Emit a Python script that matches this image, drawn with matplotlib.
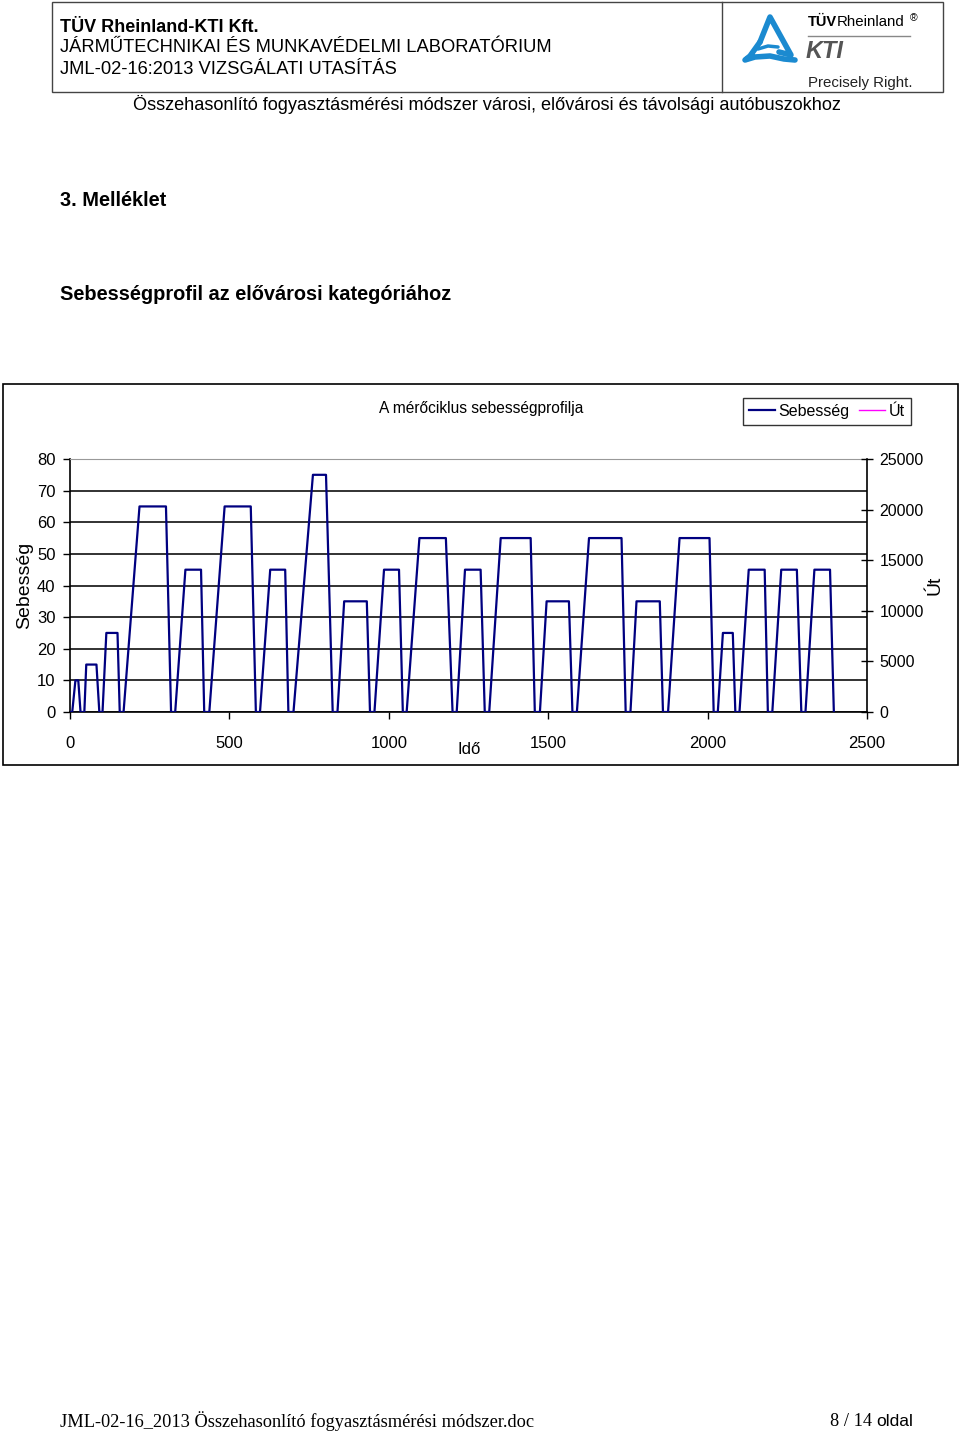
import matplotlib
matplotlib.use("Agg")
import matplotlib.pyplot as plt
from matplotlib.lines import Line2D
from matplotlib.patches import Rectangle

# speed profile of the suburban test cycle (vertices of the trapezoids)
time_s = [0,
          7, 17, 26, 33, 45, 51, 83, 92, 102, 114, 149, 156,
          168, 218, 301, 317, 330, 362, 411, 421, 437, 485, 567, 583,
          596, 628, 675, 685, 701, 762, 803, 824, 839, 860, 931, 941,
          955, 985, 1032, 1044, 1056, 1096, 1179, 1200, 1213, 1239, 1288, 1301,
          1315, 1351, 1445, 1458, 1474, 1495, 1565, 1576, 1590, 1628, 1730, 1743,
          1758, 1777, 1850, 1860, 1876, 1912, 2006, 2019, 2032, 2048, 2079, 2087,
          2100, 2129, 2179, 2189, 2203, 2231, 2280, 2294, 2307, 2335, 2384, 2396]
speed_kmh = [0,
             0, 10, 10, 0, 0, 15, 15, 0, 0, 25, 25, 0,
             0, 65, 65, 0, 0, 45, 45, 0, 0, 65, 65, 0,
             0, 45, 45, 0, 0, 75, 75, 0, 0, 35, 35, 0,
             0, 45, 45, 0, 0, 55, 55, 0, 0, 45, 45, 0,
             0, 55, 55, 0, 0, 35, 35, 0, 0, 55, 55, 0,
             0, 35, 35, 0, 0, 55, 55, 0, 0, 25, 25, 0,
             0, 45, 45, 0, 0, 45, 45, 0, 0, 45, 45, 0]
# distance series is in the legend but has no visible points
dist_t = []
dist_m = []

speed_ticks = [0, 10, 20, 30, 40, 50, 60, 70, 80]
dist_ticks = [0, 5000, 10000, 15000, 20000, 25000]
time_ticks = [0, 500, 1000, 1500, 2000, 2500]

W, H = 960, 1435
SANS = ["Liberation Sans", "DejaVu Sans"]
SERIF = ["Liberation Serif", "DejaVu Serif"]
CH = 11.5  # chart font size


def fx(x):
    return x / W


def fy(y):
    return 1 - y / H


fig = plt.figure(figsize=(W / 100, H / 100), dpi=100)
fig.patch.set_facecolor("white")

# page header
fig.add_artist(Rectangle((fx(52), fy(92)), fx(943) - fx(52), fy(2) - fy(92),
                         transform=fig.transFigure, fill=False, ec="#444444", lw=1))
fig.add_artist(Line2D([fx(722), fx(722)], [fy(2), fy(92)], transform=fig.transFigure,
                      color="#444444", lw=1))
fig.text(fx(60), fy(27), "TÜV Rheinland-KTI Kft.", family=SANS, fontsize=13,
         weight="bold", va="center")
fig.text(fx(60), fy(48), "JÁRMŰTECHNIKAI ÉS MUNKAVÉDELMI LABORATÓRIUM", family=SANS,
         fontsize=13.2, va="center")
fig.text(fx(60), fy(69), "JML-02-16:2013 VIZSGÁLATI UTASÍTÁS", family=SANS,
         fontsize=13.2, va="center")

# logo
blue = "#1b8ad0"
fig.add_artist(Line2D([fx(x) for x in [760, 770, 791, 779]],
                      [fy(y) for y in [42, 17, 55, 52]],
                      transform=fig.transFigure, color=blue, lw=4, solid_capstyle="round"))
fig.add_artist(Line2D([fx(x) for x in [760, 750, 745, 755, 770, 784, 795]],
                      [fy(y) for y in [42, 56, 60, 57, 56, 59, 60]],
                      transform=fig.transFigure, color=blue, lw=4, solid_capstyle="round"))
fig.add_artist(Line2D([fx(x) for x in [758, 768, 778]],
                      [fy(y) for y in [49, 46, 47]],
                      transform=fig.transFigure, color=blue, lw=2.5, solid_capstyle="round"))
fig.text(fx(808), fy(22), "TÜV", family=SANS, fontsize=10.5, weight="bold", va="center")
fig.text(fx(837), fy(22), "Rheinland", family=SANS, fontsize=10.8, va="center")
fig.text(fx(910), fy(18), "®", family=SANS, fontsize=7.5, va="center")
fig.add_artist(Line2D([fx(808), fx(910)], [fy(36), fy(36)], transform=fig.transFigure,
                      color="#888888", lw=1))
fig.text(fx(806), fy(51), "KTI", family=SANS, fontsize=17, weight="bold", style="italic",
         color="#555555", va="center")
fig.text(fx(808), fy(83), "Precisely Right.", family=SANS, fontsize=10.8, va="center",
         color="#222222")

fig.text(fx(487), fy(104),
         "Összehasonlító fogyasztásmérési módszer városi, elővárosi és távolsági autóbuszokhoz",
         family=SANS, fontsize=13.1, ha="center", va="center")

fig.text(fx(60), fy(201), "3. Melléklet", family=SANS, fontsize=14.4, weight="bold",
         va="center")
fig.text(fx(60), fy(294), "Sebességprofil az elővárosi kategóriához", family=SANS,
         fontsize=14.4, weight="bold", va="center")

# chart frame
fig.add_artist(Rectangle((fx(3), fy(765)), fx(958) - fx(3), fy(384) - fy(765),
                         transform=fig.transFigure, fill=False, ec="black", lw=1.2))
fig.text(fx(481), fy(408), "A mérőciklus sebességprofilja", family=SANS, fontsize=11.2,
         ha="center", va="center")

ax = fig.add_axes([fx(70), fy(712), fx(867) - fx(70), fy(459) - fy(712)])
ax.plot(time_s, speed_kmh, color="#000080", lw=1.6, label="Sebesség", zorder=3)
ax.set_xlim(0, 2500)
ax.set_ylim(0, 80)
ax.set_xticks(time_ticks)
ax.set_yticks(speed_ticks)
ax.grid(axis="y", color="#222222", lw=1.3)
ax.yaxis.get_gridlines()[-1].set_color("#999999")
for s in ["left", "bottom"]:
    ax.spines[s].set_color("black")
    ax.spines[s].set_linewidth(1.2)
ax.spines["top"].set_color("#999999")
ax.spines["right"].set_visible(False)
ax.tick_params(axis="y", direction="out", length=5, width=1, pad=5.5, labelsize=CH + 0.5)
ax.tick_params(axis="x", direction="out", length=5, width=1, pad=12, labelsize=CH + 0.5)
for lab in ax.get_xticklabels() + ax.get_yticklabels():
    lab.set_family(SANS)

ax.set_xlabel("Idő", family=SANS, fontsize=CH + 0.5)
ax.xaxis.set_label_coords((469 - 70) / 797, (712 - 749) / 253)
ax.xaxis.label.set_va("center")
ax.set_ylabel("Sebesség", family=SANS, fontsize=14)
ax.yaxis.set_label_coords((25 - 70) / 797, (712 - 585) / 253)
ax.yaxis.label.set_va("center")

ax2 = ax.twinx()
ax2.plot(dist_t, dist_m, color="#ff00ff", lw=1, label="Út")
ax2.set_ylim(0, 25000)
ax2.set_yticks(dist_ticks)
for s in ["left", "bottom", "top"]:
    ax2.spines[s].set_visible(False)
ax2.spines["right"].set_color("black")
ax2.spines["right"].set_linewidth(1.2)
ax2.tick_params(axis="y", direction="inout", length=9, width=1, pad=4.5, labelsize=CH)
for lab in ax2.get_yticklabels():
    lab.set_family(SANS)
ax2.set_ylabel("Út", family=SANS, fontsize=14)
ax2.yaxis.set_label_coords((935 - 70) / 797, (712 - 585) / 253)
ax2.yaxis.label.set_va("center")

h1, l1 = ax.get_legend_handles_labels()
h2, l2 = ax2.get_legend_handles_labels()
leg = fig.legend(h1 + h2, l1 + l2, loc="center",
                 bbox_to_anchor=(fx(744), fy(428), fx(910) - fx(744), fy(395) - fy(428)),
                 bbox_transform=fig.transFigure, ncol=2,
                 prop={"family": SANS, "size": CH}, frameon=True, fancybox=False,
                 handlelength=1.6, handletextpad=0.25, columnspacing=0.6,
                 borderpad=0.4, borderaxespad=0)
leg.get_frame().set_edgecolor("black")
leg.get_frame().set_linewidth(1)

# footer
fig.text(fx(60), fy(1421), "JML-02-16_2013 Összehasonlító fogyasztásmérési módszer.doc",
         family=SERIF, fontsize=13.25, va="center")
fig.text(fx(872), fy(1421), "8 / 14", family=SERIF, fontsize=13.25, ha="right", va="center")
fig.text(fx(876), fy(1421), "oldal", family=SANS, fontsize=12.5, ha="left", va="center")

fig.savefig("out.png", dpi=100)
